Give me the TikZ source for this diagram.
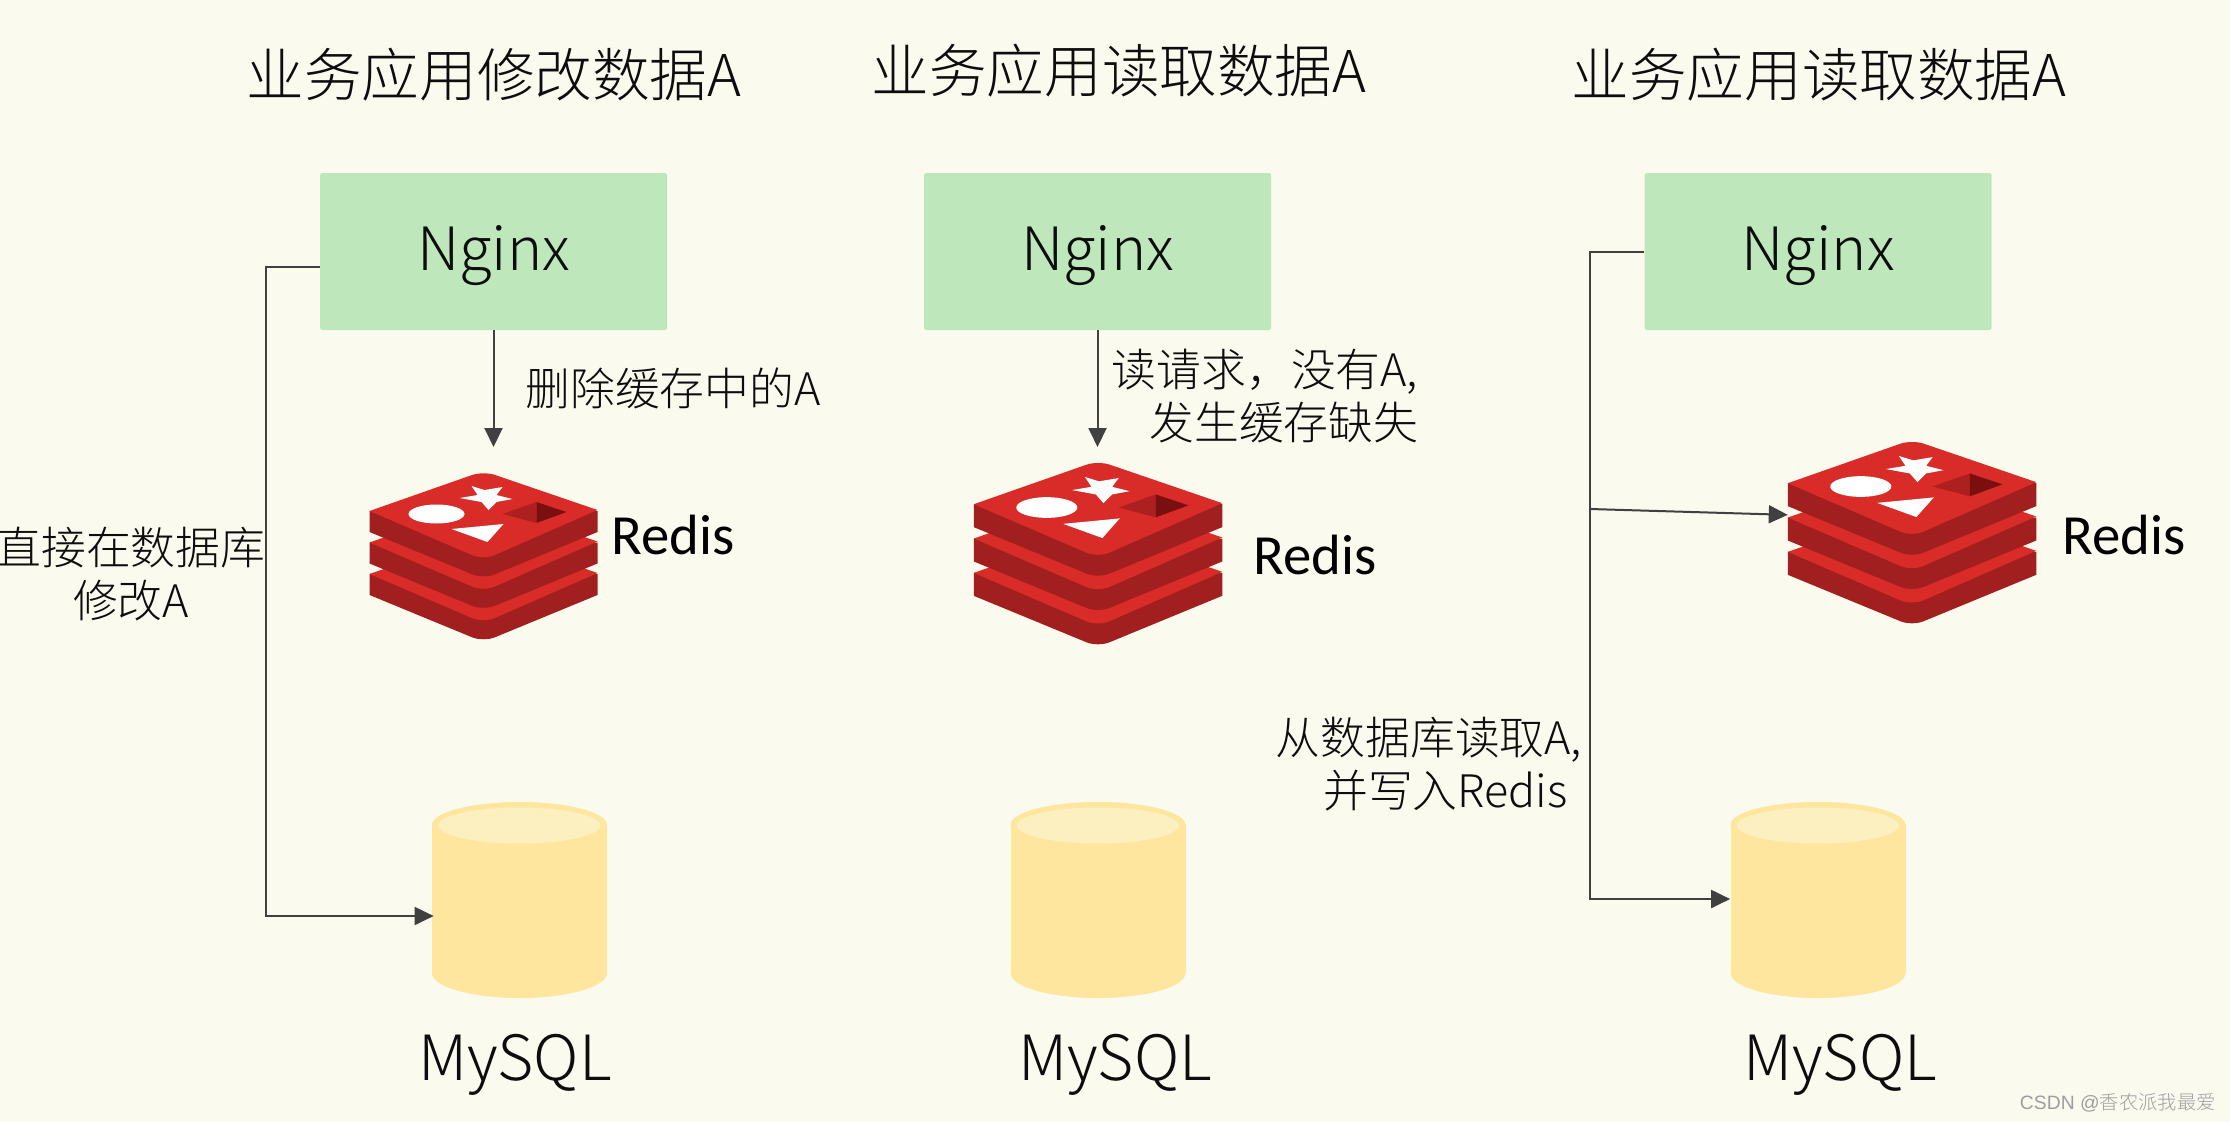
\documentclass[tikz,border=0pt]{standalone}
\usepackage{fontspec}
\setmainfont{Noto Sans CJK SC Light}
\newfontfamily\redisfont{Carlito}
\newfontfamily\markfont{Liberation Sans}
\usetikzlibrary{arrows.meta,shapes.geometric}

\definecolor{bgcol}{HTML}{FBFAEF}
\definecolor{boxgreen}{HTML}{BEE8BC}
\definecolor{dbyellow}{HTML}{FFE69E}
\definecolor{dblight}{HTML}{FCEFC0}
\definecolor{redislight}{HTML}{D92B27}
\definecolor{redisdark}{HTML}{A11F1F}
\definecolor{holelight}{HTML}{AD2020}
\definecolor{holedark}{HTML}{7A0F0F}
\definecolor{linecol}{HTML}{404040}

\tikzset{
  title/.style={font=\fontsize{32.8}{38}\selectfont,text=black!95,inner sep=0pt},
  nginx/.style={fill=boxgreen,rounded corners=1pt,minimum width=347*0.02cm,minimum height=157*0.02cm,
    inner sep=0pt,font=\fontsize{34}{38}\selectfont,text=black!95,text height=0.81cm,text depth=0.05cm},
  mysql/.style={font=\fontsize{35.5}{40}\selectfont,text=black!95,inner sep=0pt},
  note/.style={font=\fontsize{25.5}{30.6}\selectfont,text=black!95,inner sep=0pt},
  redislabel/.style={font=\redisfont\fontsize{32.3}{38}\selectfont,anchor=west,inner sep=0pt},
  db/.style={fill=dbyellow,draw=none,inner sep=0pt,minimum width=175*0.02cm,minimum height=148*0.02cm},
  dbtop/.style={ellipse,fill=dblight,draw=none,inner sep=0pt,minimum width=162*0.02cm,minimum height=36*0.02cm},
  conn/.style={draw=linecol,line width=0.04cm,-{Triangle[length=0.38cm,width=0.36cm]}},
  plain/.style={draw=linecol,line width=0.04cm},
  pics/redis/.style={code={
    \foreach \d in {63,31.5,0}{
      \begin{scope}[shift={(0,\d)}]
        \fill[redisdark] (-114,36) -- (-114,57) [rounded corners=7pt] -- (0,104) [sharp corners] -- (114,57) -- (114,36) -- cycle;
        \fill[redislight] (-114,36) [rounded corners=7pt] -- (0,-4) [sharp corners] -- (114,35) [rounded corners=7pt] -- (0,85) [sharp corners] -- cycle;
      \end{scope}
    }
    \fill[white] (-12,11) -- (1,15) -- (19,12) -- (13,20) -- (29,24) -- (13,27) -- (5,35) -- (-2,27) -- (-24,23) -- (-6,20) -- cycle;
    \fill[white] (-47,39) ellipse [x radius=28,y radius=9.5];
    \fill[white] (-32,54) -- (20,49) -- (4,67) -- cycle;
    \fill[holelight] (19,39) -- (53,27) -- (53,48) -- cycle;
    \fill[holedark] (53,27) -- (83,37) -- (53,48) -- cycle;
    \coordinate (-w) at (-114,65);
  }},
}

\begin{document}
\begin{tikzpicture}[x=0.02cm,y=-0.02cm]
  \useasboundingbox (0,0) rectangle (2230,1122);
  \fill[bgcol] (0,0) rectangle (2230,1122);

  % titles
  \node[title] (titleA) at (494,75) {业务应用修改数据A};
  \node[title] (titleB) at (1119,71) {业务应用读取数据A};
  \node[title] (titleC) at (1819,75) {业务应用读取数据A};

  % nginx boxes
  \node[nginx] (nginxA) at (493.5,251.5) {Nginx};
  \node[nginx] (nginxB) at (1097.5,251.5) {Nginx};
  \node[nginx] (nginxC) at (1818,251.5) {Nginx};

  % redis logos
  \pic (redisA) at (483.5,475) {redis};
  \pic[scale=1.09] (redisB) at (1098,465) {redis};
  \pic[scale=1.09] (redisC) at (1912,444) {redis};
  \node[redislabel] (redisLabelA) at (611,535) {Redis};
  \node[redislabel] (redisLabelB) at (1253,555) {Redis};
  \node[redislabel] (redisLabelC) at (2062,535) {Redis};
  \coordinate (redisTopA) at (493.5,447);
  \coordinate (redisTopB) at (1097.5,447);

  % mysql cylinders
  \foreach \n/\x in {A/519.5,B/1098,C/1818}{
    \fill[dbyellow] (\x,825) ellipse [x radius=87.5,y radius=23];
    \fill[dbyellow] (\x,973) ellipse [x radius=87.5,y radius=25];
    \node[db] (mysql\n) at (\x,899) {};
    \node[dbtop] (mysqlTop\n) at (\x,825.5) {};
  }
  \node[mysql] (mysqlLabelA) at (515,1065) {MySQL};
  \node[mysql] (mysqlLabelB) at (1115,1065) {MySQL};
  \node[mysql] (mysqlLabelC) at (1840,1065) {MySQL};

  % column A
  \coordinate (bendA) at (266,267);
  \coordinate (bendB) at (266,916);
  \draw[conn] (nginxA) -- (redisTopA);
  \draw[conn] (nginxA.west |- bendA) -- (bendA) -- (bendB) -- ([xshift=0.04cm]mysqlA.west |- bendB);
  \node[note] (noteDelete) at (673,388) {删除缓存中的A};
  \node[note,align=center] (noteDirect) at (131,574) {直接在数据库\\修改A};

  % column B
  \draw[conn] (nginxB) -- (redisTopB);
  \node[note,align=left] (noteMiss) at (1265,396) {读请求，没有A,\\\hspace*{0.84em}发生缓存缺失};

  % column C
  \coordinate (bendC) at (1590,251.5);
  \coordinate (splitC) at (1590,509);
  \coordinate (bendD) at (1590,899);
  \draw[plain] (nginxC) -- (bendC) -- (splitC);
  \draw[conn] (splitC) -- (redisC-w);
  \draw[conn] (splitC) -- (bendD) -- (mysqlC);
  \node[note,align=left] (noteRead) at (1429,764) {从数据库读取A,\\\hspace*{1.06em}并写入Redis};

  % watermark
  \node[inner sep=0pt,text=black!38,font=\fontsize{11}{12}\selectfont,anchor=east] (mark) at (2216,1103)
    {{\markfont CSDN @}香农派我最爱};
\end{tikzpicture}
\end{document}
